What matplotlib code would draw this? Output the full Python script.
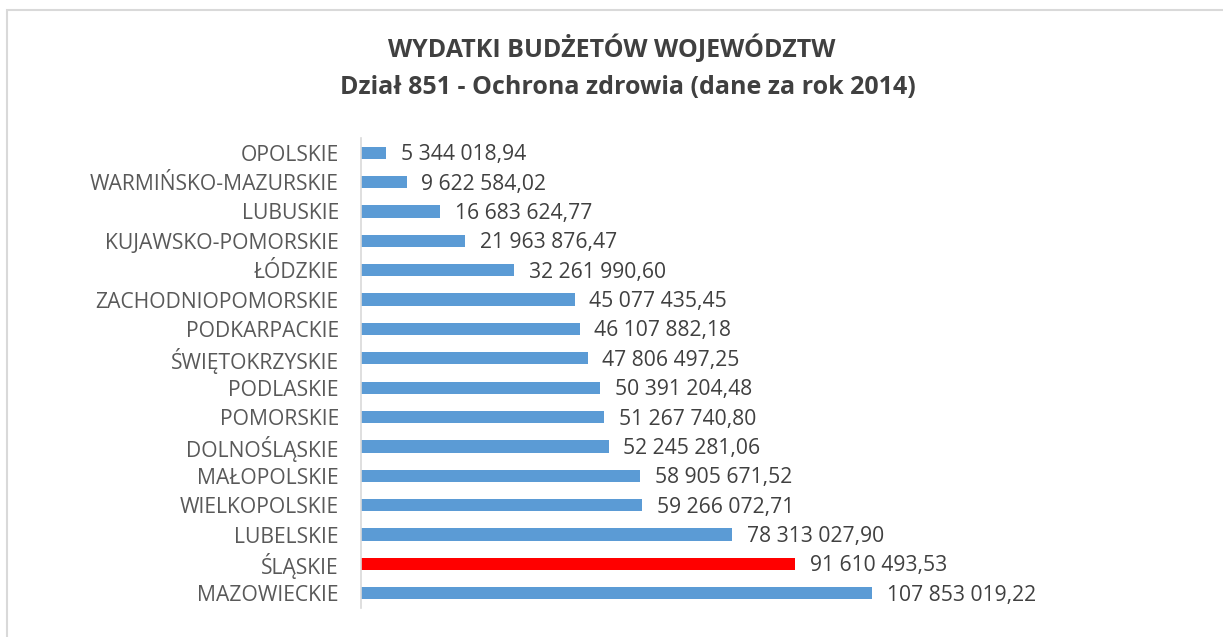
import matplotlib.pyplot as plt
import matplotlib.transforms as mtransforms
from matplotlib.patches import Rectangle

# data (top to bottom as in the chart)
regions = ["OPOLSKIE", "WARMIŃSKO-MAZURSKIE", "LUBUSKIE", "KUJAWSKO-POMORSKIE",
           "ŁÓDZKIE", "ZACHODNIOPOMORSKIE", "PODKARPACKIE", "ŚWIĘTOKRZYSKIE",
           "PODLASKIE", "POMORSKIE", "DOLNOŚLĄSKIE", "MAŁOPOLSKIE",
           "WIELKOPOLSKIE", "LUBELSKIE", "ŚLĄSKIE", "MAZOWIECKIE"]
values = [5344018.94, 9622584.02, 16683624.77, 21963876.47,
          32261990.60, 45077435.45, 46107882.18, 47806497.25,
          50391204.48, 51267740.80, 52245281.06, 58905671.52,
          59266072.71, 78313027.90, 91610493.53, 107853019.22]
highlight = "ŚLĄSKIE"

title_lines = ["WYDATKI BUDŻETÓW WOJEWÓDZTW",
               "Dział 851 - Ochrona zdrowia (dane za rok 2014)"]

plt.rcParams['font.family'] = ['Open Sans', 'DejaVu Sans']


def fmt(v):
    s = "{:,.2f}".format(v)
    return s.replace(",", " ").replace(".", ",")


fig = plt.figure(figsize=(12.23, 6.37), dpi=100)
fig.patches.append(Rectangle((7 / 1223, -0.1), 1.2, 1 - 10 / 637 + 0.1,
                             transform=fig.transFigure, fill=False,
                             edgecolor="#d9d9d9", linewidth=1.5))

ax = fig.add_axes([361 / 1223, 1 - 608 / 637, 569 / 1223, 470 / 637])

n = len(regions)
ypos = list(range(n))[::-1]
colors = ["#ff0000" if r == highlight else "#5b9bd5" for r in regions]
ax.barh(ypos, values, height=0.42, color=colors)

# nudge texts down a little so they sit on the bar centres
shift = mtransforms.ScaledTranslation(0, -2 / 100, fig.dpi_scale_trans)

for y, v in zip(ypos, values):
    ax.text(v + 3.1e6, y, fmt(v), va="center", ha="left",
            fontsize=15.2, color="#404040", transform=ax.transData + shift)

ax.set_xlim(0, 120e6)
ax.set_ylim(-0.5, n - 0.5)
ax.set_yticks(ypos)
ax.set_yticklabels(regions, fontsize=15.2, color="#595959")
for lbl in ax.get_yticklabels():
    lbl.set_transform(lbl.get_transform() + shift)
ax.tick_params(axis="y", length=0, pad=16)
ax.set_xticks([])
for s in ["top", "right", "bottom"]:
    ax.spines[s].set_visible(False)
ax.spines["left"].set_color("#d9d9d9")
ax.spines["left"].set_linewidth(1.2)

fig.text(612 / 1223, 1 - 49 / 637, title_lines[0], ha="center", va="center",
         fontsize=18, fontweight="bold", color="#404040")
fig.text(628 / 1223, 1 - 88 / 637, title_lines[1], ha="center", va="center",
         fontsize=18, fontweight="bold", color="#404040")

fig.savefig("out.png", dpi=100)
